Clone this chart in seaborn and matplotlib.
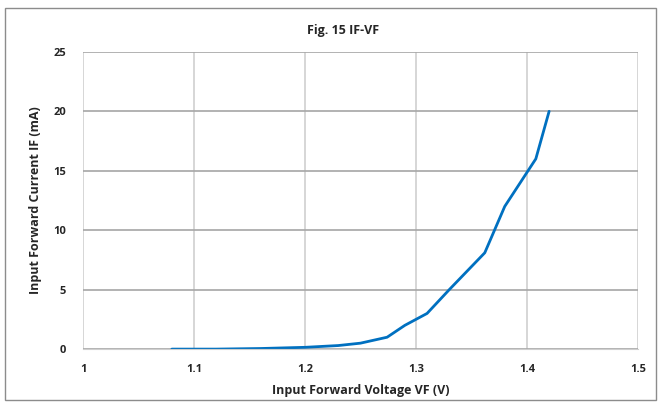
import matplotlib
matplotlib.use("Agg")
import matplotlib.pyplot as plt
import seaborn as sns
import pandas as pd
from matplotlib.patches import Rectangle

vf = [1.08, 1.12, 1.16, 1.20, 1.23, 1.25, 1.274, 1.29, 1.31, 1.33, 1.362, 1.38, 1.408, 1.42]
i_f = [0.0, 0.0, 0.05, 0.15, 0.3, 0.5, 1.0, 2.0, 3.0, 5.0, 8.1, 12.0, 16.0, 20.0]
xticks = [1, 1.1, 1.2, 1.3, 1.4, 1.5]
xticklabels = ["1", "1.1", "1.2", "1.3", "1.4", "1.5"]
yticks = [0, 5, 10, 15, 20, 25]

sns.set_style("white")
plt.rcParams['font.family'] = ['Open Sans', 'DejaVu Sans']

fig = plt.figure(figsize=(6.59, 4.05), dpi=100)
ax = fig.add_axes([0.126, 0.138, 0.842, 0.734])
df = pd.DataFrame({"VF": vf, "IF": i_f})
sns.lineplot(data=df, x="VF", y="IF", ax=ax, color="#0070C0", linewidth=2)

ax.set_xlim(1, 1.5)
ax.set_ylim(0, 25)
ax.set_xticks(xticks)
ax.set_xticklabels(xticklabels)
ax.set_yticks(yticks)
ax.grid(True, axis="y", color="#A6A6A6", linewidth=1.2)
ax.grid(True, axis="x", color="#CFCFCF", linewidth=1.2)
ax.set_axisbelow(True)
for s in ["top", "right"]:
    ax.spines[s].set_visible(False)
ax.spines["left"].set_visible(False)
ax.spines["bottom"].set_color("#CFCFCF")
ax.tick_params(axis="x", length=5, color="#CFCFCF", pad=6, labelsize=8)
ax.tick_params(axis="y", length=0, pad=12, labelsize=8)
for lab in ax.get_xticklabels() + ax.get_yticklabels():
    lab.set_fontweight("bold")
ax.set_xlabel("Input Forward Voltage VF (V)", fontsize=9, fontweight="bold", labelpad=6)
ax.set_ylabel("Input Forward Current IF (mA)", fontsize=9, fontweight="bold", labelpad=8)
fig.text(0.52, 0.925, "Fig. 15 IF-VF", ha="center", va="center", fontsize=9, fontweight="bold")

fig.patches.append(Rectangle((0.008, 0.012), 0.988, 0.968, transform=fig.transFigure,
                             fill=False, edgecolor="#8C8C8C", linewidth=1))
fig.savefig("out.png", dpi=100)
